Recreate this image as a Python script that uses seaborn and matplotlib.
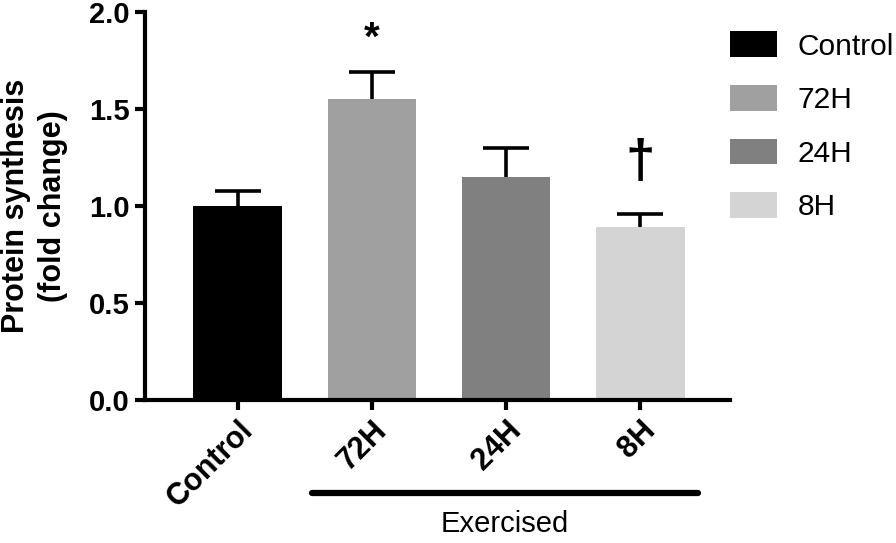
import numpy as np
import pandas as pd
import matplotlib
matplotlib.use("Agg")
import matplotlib.pyplot as plt
import matplotlib.transforms as mtransforms
import seaborn as sns

# Data
groups = ["Control", "72H", "24H", "8H"]
means = [1.00, 1.55, 1.15, 0.89]
sems = [0.08, 0.14, 0.15, 0.07]
colors = ["#000000", "#a0a0a0", "#808080", "#d4d4d4"]

sns.set_style("ticks")
plt.rcParams["font.family"] = ["Liberation Sans", "DejaVu Sans"]
plt.rcParams["text.color"] = "black"
plt.rcParams["axes.labelcolor"] = "black"
plt.rcParams["xtick.color"] = "black"
plt.rcParams["ytick.color"] = "black"
plt.rcParams["axes.edgecolor"] = "black"

df = pd.DataFrame({"group": groups, "value": means})

fig = plt.figure(figsize=(8.96, 5.43), dpi=100)
ax = fig.add_axes([0.162, 0.263, 0.653, 0.715])

sns.barplot(data=df, x="group", y="value", hue="group", palette=colors,
            width=0.66, dodge=False, saturation=1, legend=True, ax=ax,
            edgecolor="none")

# upward-only error bars
eb = ax.errorbar(np.arange(len(groups)), means, yerr=[np.zeros(len(sems)), sems],
                 fmt="none", ecolor="black", elinewidth=2.6, capsize=16.5, capthick=2.6)
eb[1][0].set_visible(False)

ax.set_ylim(0, 2.0)
ax.set_xlim(-0.69, 3.67)
ax.set_yticks([0, 0.5, 1.0, 1.5, 2.0])
ax.set_yticklabels(["0.0", "0.5", "1.0", "1.5", "2.0"])
ax.set_xlabel("")
ax.set_ylabel("Protein synthesis\n(fold change)", fontsize=22, fontweight="bold",
              labelpad=15, linespacing=1.3)

for sp in ["top", "right"]:
    ax.spines[sp].set_visible(False)
for sp in ["left", "bottom"]:
    ax.spines[sp].set_linewidth(3)
ax.tick_params(axis="both", width=3, length=7, labelsize=21, pad=4)
for lab in ax.get_yticklabels():
    lab.set_fontweight("bold")
plt.setp(ax.get_xticklabels(), rotation=45, ha="right", rotation_mode="anchor",
         fontweight="bold", fontsize=22)

# significance marks
ax.text(1, 1.86, "*", ha="center", va="center", fontsize=29, fontweight="bold")
ax.text(3, 1.22, "\u2020", ha="center", va="center", fontsize=38, fontweight="bold")

# Exercised bracket
trans = mtransforms.blended_transform_factory(ax.transData, ax.transAxes)
ax.plot([0.55, 3.43], [-0.24, -0.24], color="black", lw=4.5,
        solid_capstyle="round", transform=trans, clip_on=False)
ax.text(1.99, -0.32, "Exercised", ha="center", va="center", fontsize=21,
        transform=trans)

handles, labels = ax.get_legend_handles_labels()
ax.legend(handles, labels, loc="upper left", bbox_to_anchor=(1.0, 0.95),
          frameon=False, fontsize=21.5, handlelength=1.55, handleheight=0.95,
          handletextpad=0.7, labelspacing=0.82, borderaxespad=0, borderpad=0)

fig.savefig("out.png", dpi=100)
